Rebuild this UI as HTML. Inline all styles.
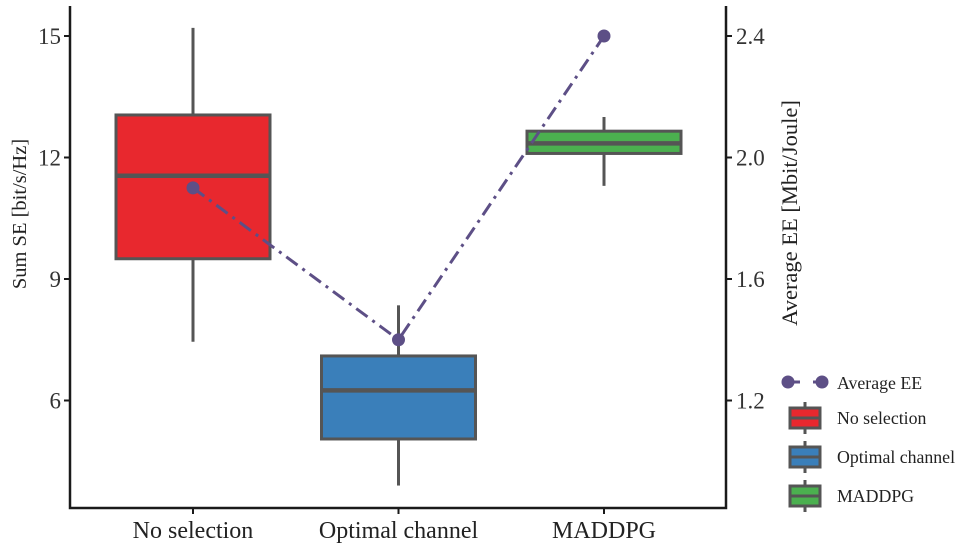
<!DOCTYPE html>
<html><head><meta charset="utf-8"><style>
body{margin:0;background:#fff}
svg{display:block;font-family:"Liberation Serif",serif}
</style></head><body>
<svg id="chart" width="961" height="549" viewBox="0 0 961 549"></svg>
<script>
const categories=["No selection","Optimal channel","MADDPG"];
const boxColors=["#e8282e","#3a7fba","#4bb04f"];
const whiskerLow=[7.45,3.9,11.3];
const q1=[9.5,5.05,12.1];
const median=[11.55,6.25,12.35];
const q3=[13.05,7.1,12.65];
const whiskerHigh=[15.2,8.35,13.0];
const avgEE=[1.9,1.4,2.4];
const leftTicks=[6,9,12,15];
const rightTicks=[1.2,1.6,2.0,2.4];

const NS="http://www.w3.org/2000/svg";
const svg=document.getElementById('chart');
function el(tag,attrs,parent){const e=document.createElementNS(NS,tag);for(const k in attrs)e.setAttribute(k,attrs[k]);(parent||svg).appendChild(e);return e;}
const X0=70,X1=726,Y0=6,Y1=508;
const yL=v=>36+(15-v)*40.5;
const yR=v=>36+(2.4-v)*303.75;
const xC=i=>193+i*205.5;
const bw=154;

categories.forEach((c,i)=>{
  const g=el('g',{});
  
  
  const x=xC(i);
  el('line',{x1:x,x2:x,y1:yL(whiskerHigh[i]),y2:yL(q3[i]),stroke:'#555','stroke-width':3},g);
  el('line',{x1:x,x2:x,y1:yL(q1[i]),y2:yL(whiskerLow[i]),stroke:'#555','stroke-width':3},g);
  el('rect',{x:x-bw/2,y:yL(q3[i]),width:bw,height:yL(q1[i])-yL(q3[i]),fill:boxColors[i],stroke:'#555','stroke-width':3},g);
  el('line',{x1:x-bw/2,x2:x+bw/2,y1:yL(median[i]),y2:yL(median[i]),stroke:'#555','stroke-width':4.5},g);
});
const pts=avgEE.map((v,i)=>xC(i)+','+yR(v)).join(' ');
const pl=el('polyline',{points:pts,fill:'none',stroke:'#5d4f86','stroke-width':3,'stroke-dasharray':'14 6 3 6'});


avgEE.forEach((v,i)=>{
  const c=el('circle',{cx:xC(i),cy:yR(v),r:6.5,fill:'#5d4f86'});
  
  
});
const ax=el('path',{d:`M${X0},${Y0}V${Y1}H${X1}V${Y0}`,fill:'none',stroke:'#1a1a1a','stroke-width':2.5});


leftTicks.forEach(v=>{
  el('line',{x1:X0-6,x2:X0,y1:yL(v),y2:yL(v),stroke:'#1a1a1a','stroke-width':2});
  const t=el('text',{x:X0-9,y:yL(v)+8,'text-anchor':'end','font-size':23,fill:'#333'});t.textContent=v;
  
  
});
rightTicks.forEach(v=>{
  el('line',{x1:X1,x2:X1+6,y1:yR(v),y2:yR(v),stroke:'#1a1a1a','stroke-width':2});
  const t=el('text',{x:X1+10,y:yR(v)+8,'font-size':23,fill:'#333'});t.textContent=v.toFixed(1);
  
  
});
categories.forEach((c,i)=>{
  el('line',{x1:xC(i),x2:xC(i),y1:Y1,y2:Y1+6,stroke:'#1a1a1a','stroke-width':2});
  const t=el('text',{x:xC(i),y:538,'text-anchor':'middle','font-size':24,fill:'#222'});t.textContent=c;
  
  
});
const yt=el('text',{transform:'translate(26,214) rotate(-90)','text-anchor':'middle','font-size':20.5,fill:'#222'});yt.textContent='Sum SE [bit/s/Hz]';


const yt2=el('text',{transform:'translate(797,213) rotate(-90)','text-anchor':'middle','font-size':22.5,fill:'#222'});yt2.textContent='Average EE [Mbit/Joule]';


const lg=el('g',{});


el('line',{x1:788,x2:800,y1:382,y2:382,stroke:'#5d4f86','stroke-width':3},lg);
el('line',{x1:813,x2:822,y1:382,y2:382,stroke:'#5d4f86','stroke-width':3},lg);
el('circle',{cx:788,cy:382,r:6.5,fill:'#5d4f86'},lg);
el('circle',{cx:822,cy:382,r:6.5,fill:'#5d4f86'},lg);
let t=el('text',{x:837,y:389,'font-size':17.8,fill:'#222'},lg);t.textContent='Average EE';
categories.forEach((c,i)=>{
  const cy=418+i*39;
  el('line',{x1:805,x2:805,y1:cy-16,y2:cy+16,stroke:'#555','stroke-width':3},lg);
  el('rect',{x:790,y:cy-10,width:30,height:20,fill:boxColors[i],stroke:'#555','stroke-width':3},lg);
  el('line',{x1:790,x2:820,y1:cy,y2:cy,stroke:'#555','stroke-width':3},lg);
  const tt=el('text',{x:837,y:cy+6,'font-size':17.8,fill:'#222'},lg);tt.textContent=c;
  
  
});
</script>
</body></html>
